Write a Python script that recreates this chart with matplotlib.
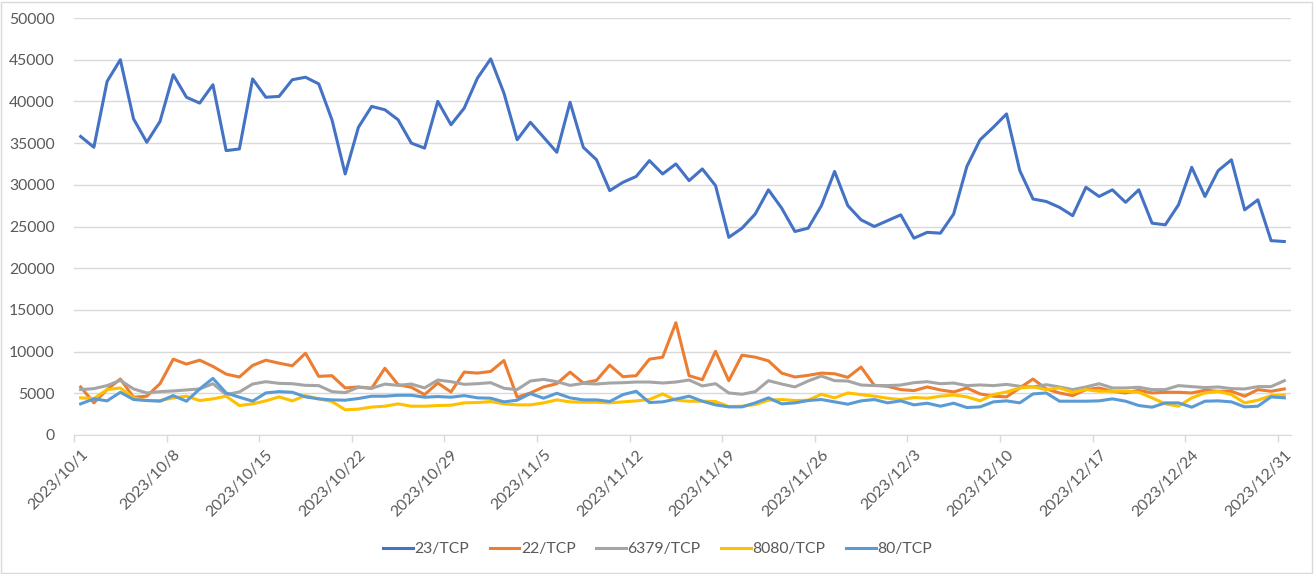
import numpy as np
import pandas as pd
import matplotlib
matplotlib.use("Agg")
import matplotlib.pyplot as plt
from matplotlib.patches import Rectangle

plt.rcParams['font.family'] = ['Lato', 'DejaVu Sans']

# fechas diarias 2023/10/1 - 2023/12/31
dates = pd.date_range("2023-10-01", "2023-12-31", freq="D")
date_labels = [f"{d.year}/{d.month}/{d.day}" for d in dates]

port23 = [35800, 34500, 42400, 45000, 37900, 35100, 37600, 43200, 40500, 39800,
          42000, 34100, 34300, 42700, 40500, 40600, 42600, 42900, 42100, 37800,
          31300, 36900, 39400, 39000, 37800, 35000, 34400, 40000, 37200, 39200,
          42800, 45100, 41000, 35400, 37500, 35700, 33900, 39900, 34500, 33000,
          29300, 30300, 31000, 32900, 31300, 32500, 30500, 31900, 29900, 23700,
          24800, 26500, 29400, 27200, 24400, 24800, 27500, 31600, 27500, 25800,
          25000, 25700, 26400, 23600, 24300, 24200, 26500, 32200, 35400, 36900,
          38500, 31700, 28300, 28000, 27300, 26300, 29700, 28600, 29400, 27900,
          29400, 25400, 25200, 27600, 32100, 28600, 31700, 33000, 27000, 28200,
          23300, 23200]

port22 = [5760, 3850, 5440, 6710, 4530, 4650, 6150, 9090, 8500, 8970,
          8220, 7300, 6950, 8340, 8970, 8610, 8300, 9800, 7030, 7110,
          5640, 5760, 5600, 8000, 6030, 5720, 4840, 6230, 5160, 7540,
          7420, 7620, 8930, 4530, 5040, 5760, 6150, 7540, 6230, 6550,
          8380, 6990, 7110, 9090, 9330, 13460, 7110, 6630, 10040, 6510,
          9570, 9330, 8890, 7420, 6950, 7150, 7420, 7340, 6910, 8140,
          5960, 5840, 5440, 5320, 5760, 5400, 5160, 5640, 4920, 4650,
          4570, 5640, 6710, 5520, 5040, 4720, 5440, 5640, 5240, 5040,
          5360, 5040, 5120, 5120, 5040, 5360, 5240, 5240, 4650, 5440,
          5240, 5520]

port6379 = [5440, 5560, 5920, 6550, 5520, 5040, 5200, 5280, 5400, 5520,
            6150, 4840, 5160, 6110, 6390, 6190, 6150, 5950, 5920, 5200,
            5080, 5720, 5600, 6100, 5950, 6110, 5640, 6590, 6390, 6070,
            6150, 6270, 5600, 5440, 6470, 6670, 6390, 5950, 6190, 6110,
            6230, 6270, 6350, 6350, 6230, 6350, 6590, 5880, 6150, 5040,
            4880, 5200, 6510, 6110, 5760, 6470, 7070, 6510, 6470, 5990,
            5920, 5920, 5990, 6270, 6390, 6150, 6230, 5920, 6000, 5920,
            6070, 5840, 5760, 6030, 5760, 5440, 5760, 6150, 5640, 5640,
            5720, 5440, 5440, 5920, 5800, 5680, 5760, 5560, 5520, 5800,
            5800, 6510]

port8080 = [4450, 4370, 5440, 5640, 4450, 4130, 4130, 4450, 4650, 4130,
            4330, 4650, 3530, 3730, 4090, 4570, 4090, 4720, 4330, 4010,
            3020, 3100, 3350, 3450, 3730, 3450, 3450, 3530, 3570, 3850,
            3890, 4010, 3730, 3610, 3610, 3850, 4210, 3970, 3930, 3930,
            3850, 3970, 4090, 4250, 4920, 4170, 4050, 4050, 4010, 3410,
            3450, 3650, 4170, 4250, 4130, 4170, 4880, 4450, 5040, 4840,
            4650, 4410, 4250, 4490, 4410, 4650, 4800, 4570, 4100, 4840,
            5160, 5640, 5760, 5440, 5640, 5120, 5440, 5240, 5240, 5240,
            5120, 4450, 3730, 3450, 4450, 5040, 5240, 4840, 3850, 4170,
            4720, 4760]

port80 = [3730, 4330, 4090, 5120, 4250, 4130, 4050, 4720, 4050, 5520,
          6790, 5040, 4530, 4050, 5040, 5200, 5120, 4570, 4330, 4210,
          4170, 4370, 4650, 4650, 4760, 4760, 4530, 4610, 4530, 4720,
          4450, 4410, 3970, 4170, 4960, 4410, 5000, 4450, 4210, 4210,
          4010, 4840, 5240, 3890, 3970, 4300, 4650, 4050, 3610, 3370,
          3370, 3850, 4450, 3730, 3850, 4130, 4250, 3970, 3690, 4090,
          4250, 3850, 4090, 3610, 3810, 3450, 3810, 3290, 3370, 3970,
          4090, 3850, 4920, 5040, 4050, 4050, 4050, 4090, 4330, 4050,
          3530, 3330, 3850, 3850, 3330, 4050, 4090, 3970, 3370, 3450,
          4570, 4450]

series_names = ['23/TCP', '22/TCP', '6379/TCP', '8080/TCP', '80/TCP']
series_vals = [port23, port22, port6379, port8080, port80]
colores = ['#4472C4', '#ED7D31', '#A5A5A5', '#FFC000', '#5B9BD5']

texto = '#595959'
rejilla = '#D9D9D9'
fs = 11.3

fig = plt.figure(figsize=(13.15, 5.74), dpi=100)
ax = fig.add_axes([0.0563, 0.2422, 0.9254, 0.7264])

x = np.arange(len(dates))
for nombre, vals, col in zip(series_names, series_vals, colores):
    ax.plot(x, vals, color=col, lw=2.2, label=nombre, solid_joinstyle='round')

ax.set_xlim(-0.5, len(dates) - 0.5)
ax.set_ylim(0, 50000)
ax.set_yticks(np.arange(0, 50001, 5000))
ax.yaxis.grid(True, color=rejilla, lw=1)
ax.set_axisbelow(True)
ax.tick_params(axis='y', length=0, pad=14, labelsize=fs, labelcolor=texto)

# etiquetas cada 7 dias, marcas entre categorias
ax.set_xticks(x[::7])
ax.set_xticklabels(date_labels[::7], rotation=45, ha='right', rotation_mode='anchor')
ax.set_xticks(np.arange(-0.5, len(dates) - 1, 7), minor=True)
ax.tick_params(axis='x', which='major', length=0, pad=9, labelsize=fs, labelcolor=texto)
ax.tick_params(axis='x', which='minor', length=5, color=rejilla, width=1)

for s in ['top', 'right', 'left']:
    ax.spines[s].set_visible(False)
ax.spines['bottom'].set_color(rejilla)

ax.legend(loc='center', bbox_to_anchor=(0.5, 0.043), bbox_transform=fig.transFigure,
          ncol=5, frameon=False, fontsize=fs, labelcolor=texto,
          handlelength=1.9, handletextpad=0.1, columnspacing=1.3)

# borde del area del grafico
fig.patches.append(Rectangle((0.001, 0.002), 0.997, 0.995, transform=fig.transFigure,
                             fill=False, edgecolor=rejilla, lw=1))

fig.savefig('out.png', dpi=100)
